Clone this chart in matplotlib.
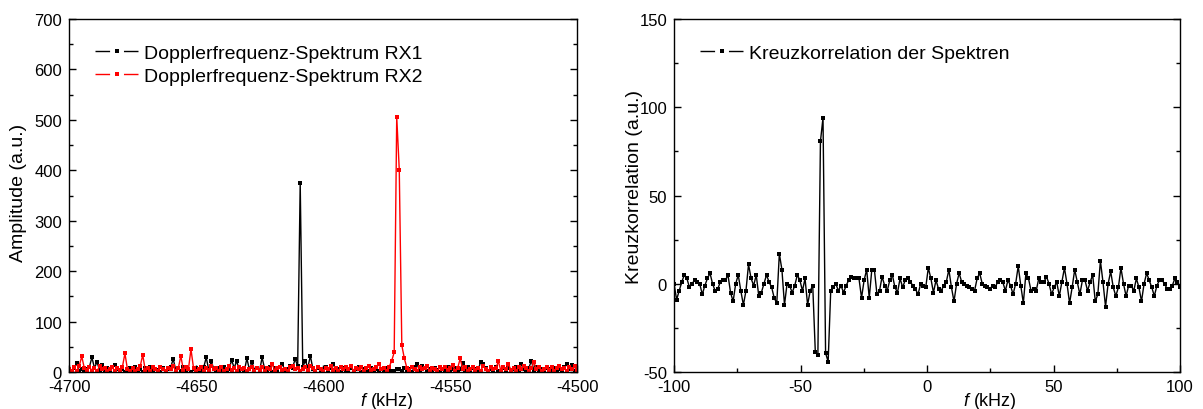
import numpy as np
import matplotlib
matplotlib.use("Agg")
import matplotlib.pyplot as plt
from matplotlib.lines import Line2D
from matplotlib.ticker import MultipleLocator

plt.rcParams["font.family"] = ["Liberation Sans", "DejaVu Sans"]
plt.rcParams["mathtext.fontset"] = "custom"
plt.rcParams["mathtext.rm"] = "Liberation Sans"
plt.rcParams["mathtext.it"] = "Liberation Sans:italic"
plt.rcParams["axes.unicode_minus"] = False

# --- data: Doppler spectra, 1 kHz bins from -4700 to -4500 kHz ---
spec_f_start, spec_f_stop = -4700, -4500
spec_rx1 = [
    4, 2, 8, 17, 3, 6, 1, 5, 10, 29,
    8, 20, 4, 14, 2, 7, 3, 9, 14, 5,
    2, 6, 1, 4, 8, 3, 10, 2, 5, 1,
    7, 3, 9, 2, 6, 4, 1, 8, 3, 5,
    9, 26, 4, 7, 2, 10, 3, 6, 1, 5,
    8, 3, 2, 9, 29, 4, 21, 6, 2, 7,
    3, 10, 1, 5, 24, 8, 22, 3, 6, 2,
    27, 5, 20, 4, 8, 2, 29, 6, 3, 9,
    1, 7, 4, 10, 15, 3, 6, 12, 8, 26,
    12, 375, 10, 22, 9, 32, 6, 3, 8, 2,
    5, 9, 4, 7, 16, 3, 6, 1, 8, 4,
    2, 7, 3, 5, 9, 1, 6, 4, 2, 8,
    3, 6, 2, 5, 1, 7, 4, 2, 3, 6,
    5, 2, 8, 3, 6, 1, 9, 15, 4, 11,
    7, 3, 5, 2, 8, 4, 1, 6, 3, 9,
    2, 5, 8, 3, 6, 17, 4, 9, 2, 7,
    5, 3, 20, 15, 8, 2, 6, 4, 9, 3,
    1, 7, 4, 8, 2, 5, 10, 3, 15, 6,
    2, 8, 22, 4, 9, 3, 6, 1, 7, 5,
    3, 8, 2, 6, 4, 9, 15, 5, 13, 3,
    7,
]
spec_rx2 = [
    6, 3, 9, 2, 12, 31, 8, 4, 10, 3,
    7, 2, 11, 5, 8, 3, 6, 9, 2, 7,
    4, 10, 37, 5, 3, 8, 2, 6, 11, 34,
    4, 7, 2, 9, 5, 3, 10, 6, 2, 8,
    5, 11, 3, 7, 32, 4, 9, 6, 45, 8,
    3, 6, 10, 2, 7, 4, 12, 5, 8, 3,
    9, 2, 6, 11, 4, 7, 3, 10, 5, 8,
    2, 6, 9, 3, 7, 4, 10, 2, 8, 5,
    15, 3, 7, 10, 4, 6, 2, 9, 11, 5,
    8, 3, 6, 10, 4, 12, 7, 3, 9, 5,
    2, 8, 6, 11, 4, 7, 3, 9, 5, 10,
    6, 11, 3, 8, 5, 9, 2, 7, 11, 4,
    6, 9, 16, 5, 8, 3, 10, 22, 39, 506,
    401, 53, 27, 8, 4, 10, 6, 3, 9, 5,
    7, 11, 3, 8, 6, 2, 9, 5, 10, 4,
    7, 13, 3, 8, 27, 5, 10, 2, 6, 9,
    4, 8, 3, 11, 6, 2, 9, 5, 7, 21,
    3, 10, 6, 15, 4, 8, 2, 9, 5, 11,
    7, 3, 8, 19, 5, 10, 2, 6, 9, 4,
    10, 3, 7, 11, 5, 8, 2, 9, 6, 12,
    4,
]

# --- data: cross correlation of the two spectra, -100 .. 100 kHz ---
xcorr_f_start, xcorr_f_stop = -100, 100
xcorr = [
    0, -9, -4, 1, 5, 3, -2, 0, 2, 1,
    0, -6, -1, 3, 6, 0, -4, -3, 1, 2,
    2, 5, -5, -10, 0, 5, -4, -12, -4, 11,
    3, -1, 5, -7, -5, 0, 5, 1, -2, -8,
    -11, 17, 8, -12, 0, -1, -5, -1, 5, 2,
    -4, 3, -12, -4, -1,
    -38.5, -40.4, 80.7, 94.1, -39.2, -44.2,
    -4, -2, 0, -4, -1, -5, -1, 2, 4, 3,
    3, 3, -8, 2, 8, -8, 8, 8, -6, -4,
    4, -1, -4, 2, 5, -2, -5, 3, -2, 2,
    3, 1, -1, -3, -6, 0,
    -1, -2, 9, 3, -5, 2, -3, -4, -1, 1,
    8, -2, -10, 0, 6, 1, 0, -1, -2, -3,
    -4, 3, 6, 0, -1, -2, -3, -1, -2, 1,
    2, 1, -4, 2, -1, -6, 0, 10, -1, -11,
    6, 3, -4, -3, -4, 3, 1, 1, 4, 0,
    -6, -2, 1, -7, 1, 9, 0, -11, -2, 8,
    1, -6, 2, 2, -4, 1, 5, -10, -6, 13,
    1, -13, 0, 7, -2, -7, -2, 9, 0, -7,
    -1, -1, -4, 3, -2, -10, 0, 6, 2, -2,
    -7, -1, 2, 2, 0, -3, -3, -1, 3, 1,
    -2,
]

spec_f = np.linspace(spec_f_start, spec_f_stop, len(spec_rx1))
xcorr_f = np.linspace(xcorr_f_start, xcorr_f_stop, len(xcorr))

line_kw = dict(lw=1.0, marker="s", ms=3.5, mew=0)


def legend_handle(color):
    # Origin-style legend symbol: line, gap, square, gap, line
    return Line2D([], [], color=color, lw=1.0, marker="s", ms=3.5, mew=0,
                  linestyle=(0, (10.5, 10, 10.5, 60)))


fig = plt.figure(figsize=(12.03, 4.10), dpi=100)
ax1 = fig.add_axes([0.0574, 0.0902, 0.4223, 0.861])
ax2 = fig.add_axes([0.5603, 0.0902, 0.4206, 0.861])

ax1.plot(spec_f, spec_rx1, color="black", **line_kw)
ax1.plot(spec_f, spec_rx2, color="red", **line_kw)
ax1.set_xlim(-4700, -4500)
ax1.set_ylim(0, 700)
ax1.xaxis.set_major_locator(MultipleLocator(50))
ax1.xaxis.set_minor_locator(MultipleLocator(25))
ax1.yaxis.set_major_locator(MultipleLocator(100))
ax1.yaxis.set_minor_locator(MultipleLocator(50))
ax1.set_ylabel("Amplitude (a.u.)", fontsize=14)
ax1.yaxis.set_label_coords(-0.083, 0.51)
leg1 = ([legend_handle("black"), legend_handle("red")],
        ["Dopplerfrequenz-Spektrum RX1", "Dopplerfrequenz-Spektrum RX2"])

ax2.plot(xcorr_f, xcorr, color="black", **line_kw)
ax2.set_xlim(-100, 100)
ax2.set_ylim(-50, 150)
ax2.xaxis.set_major_locator(MultipleLocator(50))
ax2.xaxis.set_minor_locator(MultipleLocator(25))
ax2.yaxis.set_major_locator(MultipleLocator(50))
ax2.yaxis.set_minor_locator(MultipleLocator(25))
ax2.set_ylabel("Kreuzkorrelation (a.u.)", fontsize=14)
ax2.yaxis.set_label_coords(-0.061, 0.528)
leg2 = ([legend_handle("black")], ["Kreuzkorrelation der Spektren"])

for ax, (handles, labels) in ((ax1, leg1), (ax2, leg2)):
    ax.tick_params(which="both", direction="in", right=True, top=False,
                   labelsize=12, pad=5, width=1)
    ax.tick_params(which="major", length=5)
    ax.tick_params(which="minor", length=3)
    for sp in ax.spines.values():
        sp.set_linewidth(1.0)
    ax.set_xlabel("$f$ (kHz)", fontsize=13)
    ax.xaxis.set_label_coords(0.625, -0.05)
    ax.legend(handles, labels, loc="upper left", bbox_to_anchor=(0.025, 0.968),
              frameon=False, fontsize=14, handlelength=2.2, handletextpad=0.3,
              labelspacing=0.3, borderaxespad=0.3)

fig.savefig("out.png", dpi=100)
